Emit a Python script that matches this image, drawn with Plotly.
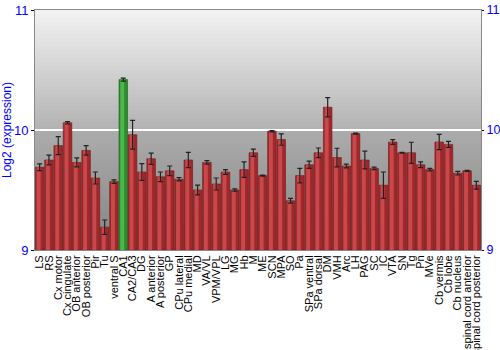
import plotly.graph_objects as go

categories = ["LS", "RS", "Cx motor", "Cx cingulate", "OB anterior", "OB posterior", "Pir", "Tu",
              "ventral S", "CA1", "CA2/CA3", "DG", "A anterior", "A posterior", "GP", "CPu lateral",
              "CPu medial", "MD", "VA/VL", "VPM/VPL", "LG", "MG", "Hb", "M", "ME", "SCN", "MPA", "SO",
              "Pa", "SPa ventral", "SPa dorsal", "DM", "VMH", "Arc", "LH", "PAG", "SC", "IC", "VTA",
              "SN", "Tg", "Pn", "MVe", "Cb vermis", "Cb lobe", "Cb nucleus",
              "spinal cord anterior", "spinal cord posterior"]
values = [9.69, 9.75, 9.87, 10.06, 9.73, 9.83, 9.60, 9.19,
          9.57, 10.42, 9.96, 9.65, 9.76, 9.61, 9.66, 9.59,
          9.75, 9.50, 9.73, 9.55, 9.65, 9.50, 9.67, 9.81, 9.62, 9.99, 9.92, 9.41,
          9.62, 9.71, 9.81, 10.19, 9.77, 9.70, 9.97, 9.75, 9.68, 9.54, 9.90,
          9.81, 9.81, 9.71, 9.67, 9.90, 9.88, 9.64,
          9.66, 9.54]
errors = [0.028, 0.04, 0.075, 0.01, 0.037, 0.04, 0.05, 0.06,
          0.014, 0.012, 0.12, 0.07, 0.047, 0.04, 0.04, 0.014,
          0.064, 0.04, 0.014, 0.05, 0.02, 0.01, 0.064, 0.03, 0.004, 0.005, 0.047, 0.02,
          0.06, 0.03, 0.04, 0.08, 0.078, 0.015, 0.005, 0.074, 0.01, 0.11, 0.02,
          0.003, 0.088, 0.024, 0.01, 0.064, 0.025, 0.015,
          0.004, 0.032]
highlight = "CA1"
y_ticks = [9, 10, 11]

base_colors = ["#2e8b2e" if c == highlight else "#a0282a" for c in categories]
light_colors = ["#4cb84c" if c == highlight else "#c8484b" for c in categories]
edge_colors = ["#1d5e1d" if c == highlight else "#6e1719" for c in categories]

fig = go.Figure()
fig.add_trace(go.Bar(
    x=categories, y=[v - 9 for v in values], base=9, width=0.92,
    marker=dict(color=base_colors, line=dict(color=edge_colors, width=0.6)),
    hoverinfo="skip", showlegend=False,
))
fig.add_trace(go.Bar(
    x=categories, y=[v - 9 for v in values], base=9, width=0.42, offset=-0.32,
    marker=dict(color=light_colors, line=dict(width=0)),
    hoverinfo="skip", showlegend=False,
))
fig.add_trace(go.Scatter(
    x=categories, y=values, mode="markers", marker=dict(size=0.1, opacity=0),
    error_y=dict(type="data", array=errors, color="#222222", thickness=1.2, width=2.5),
    hoverinfo="skip", showlegend=False,
))
fig.add_trace(go.Scatter(x=[categories[0]], y=[9], yaxis="y2", mode="markers",
                         marker=dict(opacity=0), hoverinfo="skip", showlegend=False))

# vertical gradient background
shapes = []
n = 60
def lerp(a, b, t):
    return a + (b - a) * t
for i in range(n):
    t = i / (n - 1)
    if t < 0.5:
        g = lerp(242, 178, t / 0.5)
    else:
        g = lerp(172, 132, (t - 0.5) / 0.5)
    g = int(round(g))
    shapes.append(dict(type="rect", xref="paper", yref="paper",
                       x0=0, x1=1, y0=max(0, 1 - (i + 1.6) / n), y1=1 - i / n,
                       fillcolor=f"rgb({g},{g},{g})", line=dict(width=0), layer="below"))

fig.update_layout(
    width=500, height=350,
    margin=dict(l=35, r=19, t=10, b=100),
    paper_bgcolor="white", plot_bgcolor="rgba(0,0,0,0)",
    barmode="overlay",
    shapes=shapes,
    font=dict(family="Liberation Sans, Arial, sans-serif"),
    xaxis=dict(type="category", tickangle=-90, tickfont=dict(size=11, color="black"),
               tickmode="array", tickvals=categories, ticktext=categories,
               showgrid=False, showline=True, linecolor="#888888", mirror=True,
               ticks="", range=[-0.5, len(categories) - 0.5], automargin=False),
    yaxis=dict(range=[9, 11], tickvals=y_ticks, ticktext=[str(t) for t in y_ticks],
               tickfont=dict(size=13, color="blue"), ticks="outside", ticklen=3,
               tickcolor="black", showline=True, linecolor="#888888",
               showgrid=True, gridcolor="white", gridwidth=1.5, zeroline=False,
               automargin=False,
               title=dict(text="Log2 (expression)", font=dict(size=12, color="blue"), standoff=4)),
    yaxis2=dict(range=[9, 11], tickvals=y_ticks, ticktext=[str(t) for t in y_ticks],
                overlaying="y", side="right", tickfont=dict(size=12.5, color="blue"),
                ticks="outside", ticklen=2, tickcolor="black", showgrid=False,
                showline=True, linecolor="#888888", zeroline=False, automargin=False),
)

fig.write_html("out.html")
